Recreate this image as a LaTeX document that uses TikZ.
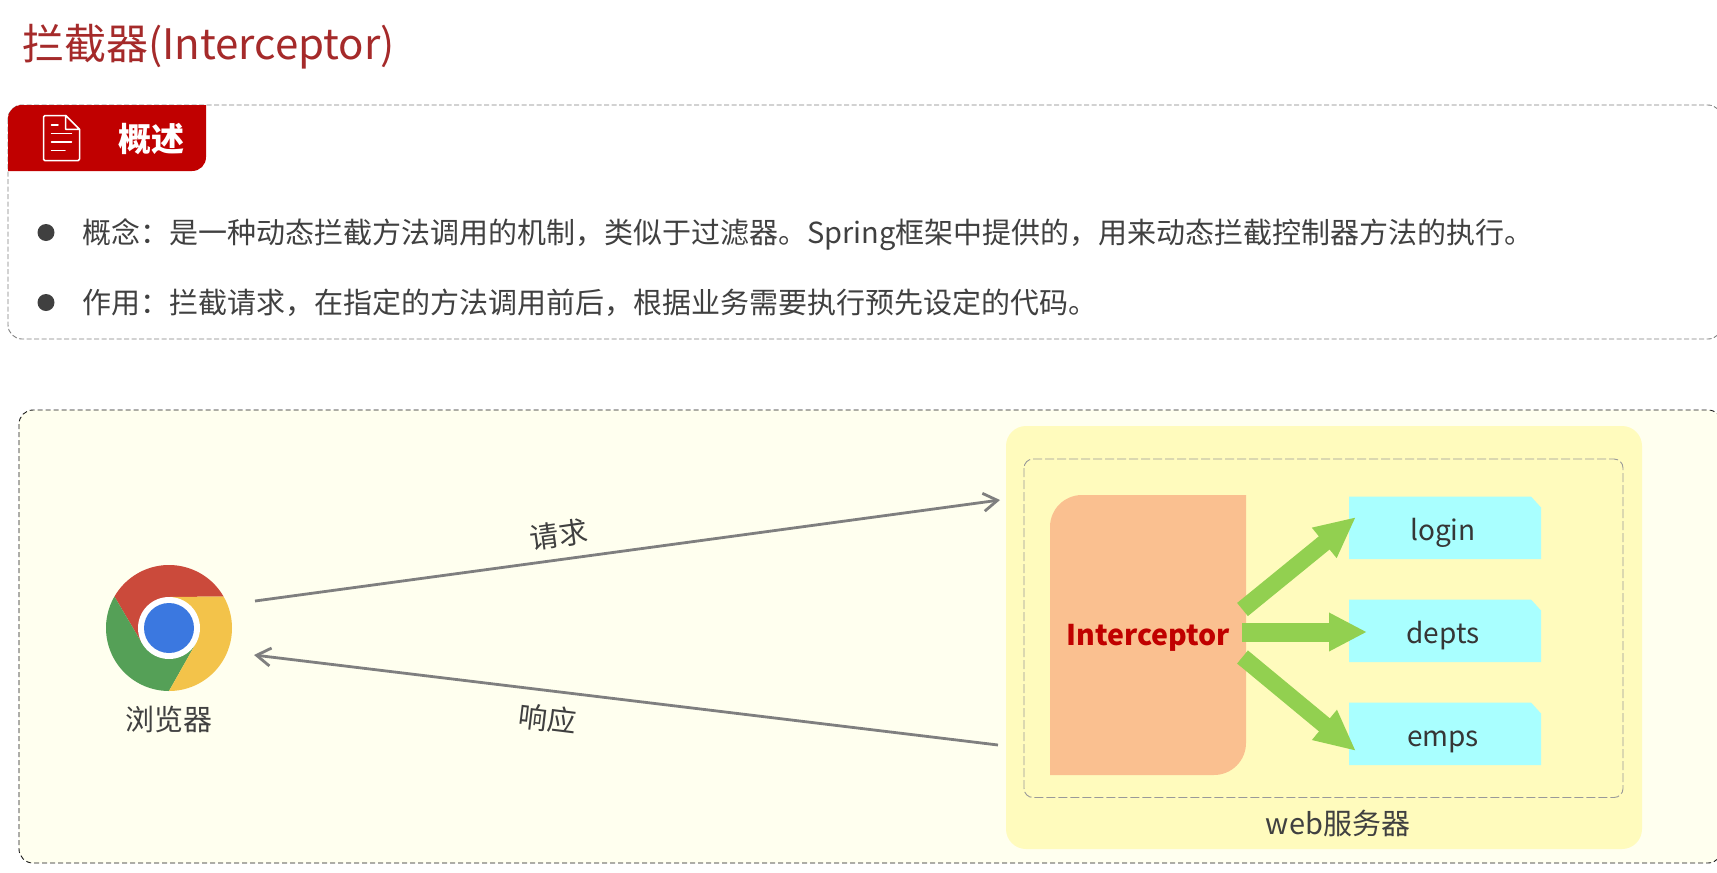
\documentclass[tikz,border=0pt]{standalone}
\usepackage{fontspec}
\setmainfont{Noto Sans CJK SC}
\usetikzlibrary{arrows.meta}
\definecolor{tcol}{HTML}{404040}
\definecolor{titlec}{HTML}{A52A2A}
\definecolor{redc}{HTML}{C00000}
\definecolor{panel}{HTML}{FFFFEF}
\definecolor{servc}{HTML}{FFFBBD}
\definecolor{orangec}{HTML}{FAC090}
\definecolor{cyanc}{HTML}{A9FFFF}
\definecolor{greenc}{HTML}{92D050}
\definecolor{grayc}{HTML}{7F7F7F}
\definecolor{chr}{HTML}{CB4A3B}
\definecolor{chy}{HTML}{F3C34A}
\definecolor{chg}{HTML}{55A057}
\definecolor{chb}{HTML}{3B78E0}
\newcommand{\fs}[1]{\fontsize{#1pt}{#1pt}\selectfont}
\tikzset{
  x=1pt,y=-1pt,
  txt/.style={inner sep=0pt,text=tcol,font=\fs{29}},
  boxlabel/.style={inner sep=0pt,text=tcol!85!black,font=\fs{28}},
  garrow/.style={draw=greenc,line width=17pt,-{Triangle[length=41pt,width=36pt]}},
  flow/.style={draw=grayc,line width=2.8pt,-{Straight Barb[length=14pt,width=18pt,line width=2.8pt]}},
  iconline/.style={draw=white,line width=1.5pt,line cap=round,line join=round},
  snipbox/.style={fill=cyanc},
}
\newcommand{\snipped}[4]{%
  \fill[snipbox] (1349,#2) -- (1531,#2) -- (1541,#2+11) -- (1541,#2+62.5) -- (1349,#2+62.5) -- cycle;
  \node[boxlabel] (#1) at (1443,#4) {#3};
}
\begin{document}
\begin{tikzpicture}
\useasboundingbox (0,0) rectangle (1717,873);
\clip (0,0) rectangle (1717,873);
\fill[white] (0,0) rectangle (1717,873);
% title
\node[anchor=west,inner sep=0pt,text=titlec,font=\fs{42}] (title) at (22,47) {拦截器(Interceptor)};
% overview box
\draw[draw=gray,dash pattern=on 5pt off 2.5pt,line width=0.9pt,rounded corners=14pt] (8,105) rectangle (1722,339);
\fill[redc] (8,171) -- (8,119) .. controls (8,111) and (14,105) .. (22,105) -- (206,105) -- (206,157) .. controls (206,165) and (200,171) .. (192,171) -- cycle;
% icon
\draw[iconline,rounded corners=1.5pt] (65.7,115.5) -- (43.5,115.5) -- (43.5,160.7) -- (79.5,160.7) -- (79.5,129.3);
\draw[iconline] (65.7,115.5) -- (79.5,129.3) -- (65.7,129.3) -- cycle;
\draw[iconline] (51.5,125) -- (58,125);
\draw[iconline] (51.5,133.3) -- (71.5,133.3);
\draw[iconline] (51.5,142) -- (71.5,142);
\draw[iconline] (51.5,150.3) -- (65,150.3);
\node[anchor=center,inner sep=0pt,text=white,font=\fs{33}\bfseries] (tab) at (151,139) {概述};
% bullets
\fill[tcol] (46,232.5) circle (8.5);
\fill[tcol] (46,302.5) circle (8.5);
\node[txt,anchor=west] (l1) at (82,235) {概念：是一种动态拦截方法调用的机制，类似于过滤器。Spring框架中提供的，用来动态拦截控制器方法的执行。};
\node[txt,anchor=west] (l2) at (82,303) {作用：拦截请求，在指定的方法调用前后，根据业务需要执行预先设定的代码。};
% lower panel
\draw[draw=black!90,dash pattern=on 5pt off 3pt,line width=0.9pt,fill=panel,rounded corners=14pt] (19,410) rectangle (1722,863);
% server
\fill[servc,rounded corners=20pt] (1006,426) rectangle (1642,849);
\draw[draw=black!40,dash pattern=on 9pt off 3pt,line width=0.9pt,rounded corners=9pt] (1024,459) rectangle (1623,797.5);
\node[txt,anchor=center] (web) at (1338,823) {web服务器};
% interceptor
\fill[orangec] (1050,775) -- (1050,527) arc[start angle=180,end angle=90,x radius=32,y radius=-32] -- (1246,495) -- (1246,743) arc[start angle=0,end angle=90,x radius=32,y radius=32] -- cycle;
\node[inner sep=0pt,text=redc,font=\fs{28.5}\bfseries] (interc) at (1148,638) {Interceptor};
% targets
\snipped{login}{496.5}{login}{533}
\snipped{depts}{599.5}{depts}{636}
\snipped{emps}{702.5}{emps}{741.5}
% green arrows
\coordinate (a1s) at (1242.5,609.5);
\coordinate (a1e) at (1356,517);
\coordinate (a2s) at (1242,632);
\coordinate (a2e) at (1367,632);
\coordinate (a3s) at (1242.5,657);
\coordinate (a3e) at (1356,751);
\draw[garrow] (a1s) -- (a1e);
\draw[garrow,line width=19pt,-{Triangle[length=38pt,width=36pt]}] (a2s) -- (a2e);
\draw[garrow] (a3s) -- (a3e);
% chrome
\begin{scope}[shift={(169,628)},y=1pt]
\fill[chr] (30:63) arc[start angle=30,end angle=150,radius=63] -- (210:31) -- (0,0) -- (90:31) -- cycle;
\fill[chg] (150:63) arc[start angle=150,end angle=270,radius=63] -- (330:31) -- (0,0) -- (210:31) -- cycle;
\fill[chy] (270:63) arc[start angle=270,end angle=390,radius=63] -- (90:31) -- (0,0) -- (330:31) -- cycle;
\fill[white] (0,0) circle (31);
\fill[chb] (0,0) circle (25);
\end{scope}
\node[txt] (browser) at (169,719) {浏览器};
% flows
\coordinate (rq1) at (255,601);
\coordinate (rq2) at (1000,500);
\coordinate (rs1) at (998,745);
\coordinate (rs2) at (254,655);
\draw[flow] (rq1) -- (rq2);
\draw[flow] (rs1) -- (rs2);
\node[txt,rotate=8] (req) at (559,535) {请求};
\node[txt,rotate=-7] (resp) at (548,719) {响应};
\end{tikzpicture}
\end{document}
